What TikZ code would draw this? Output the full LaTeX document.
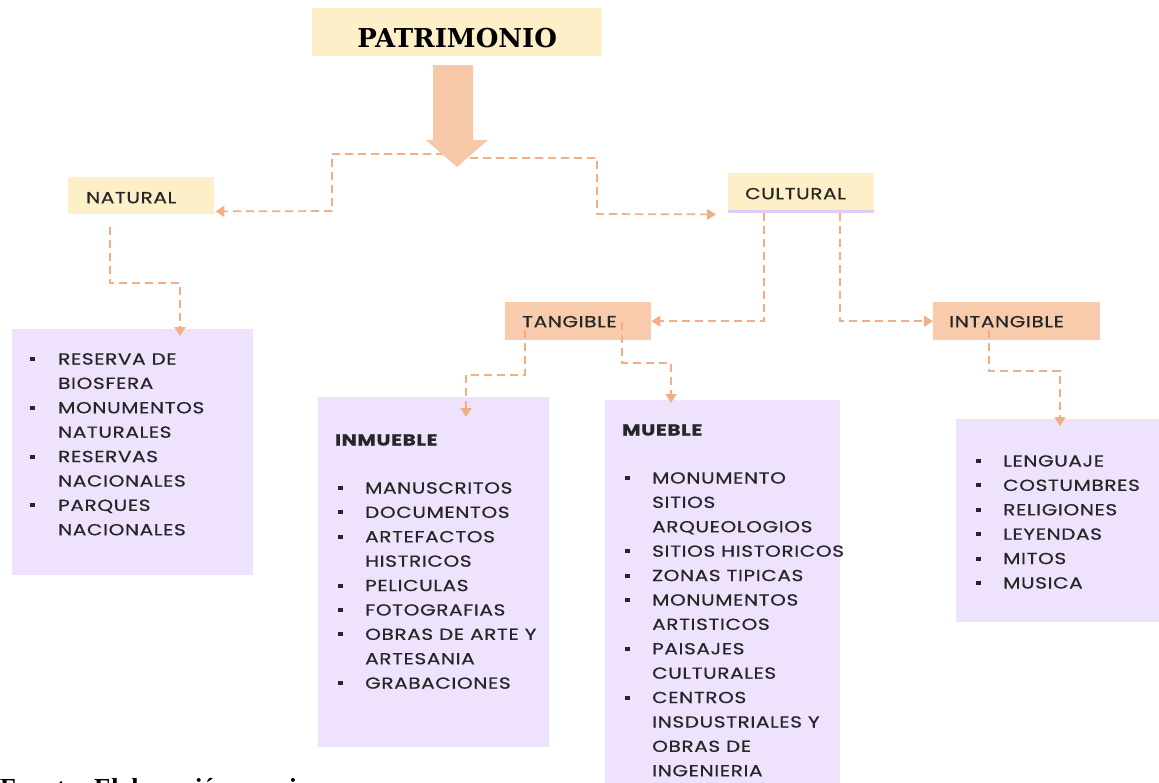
\documentclass[tikz,border=0pt]{standalone}
\usepackage{fontspec}
\setmainfont{Poppins}[FakeStretch=1.25, LetterSpace=4, FakeBold=0.6]
\newfontfamily\titlefont{DejaVu Serif}
\newfontfamily\notefont{Liberation Serif}
\usetikzlibrary{arrows.meta,calc}

\definecolor{cream}{HTML}{FDF0C9}
\definecolor{peach}{HTML}{F8CBAD}
\definecolor{lilac}{HTML}{EEE2FD}
\definecolor{lilacline}{HTML}{DDCBFA}
\definecolor{dashc}{HTML}{F3AE84}
\definecolor{bigarrow}{HTML}{F6C8A8}
\definecolor{ink}{HTML}{262626}

\tikzset{
  tag/.style={inner ysep=0pt, align=left, anchor=north west, text=ink,
    font=\fontsize{16}{19}\selectfont},
  panel/.style={fill=lilac, inner sep=0pt, anchor=north west},
  item/.style={anchor=base west, inner sep=0pt, text=ink,
    font=\fontsize{16}{19}\selectfont},
  head/.style={item, font=\fontsize{16}{19}\selectfont\bfseries},
  link/.style={draw=dashc, line width=1.7pt, dash pattern=on 8pt off 5pt,
    -{Triangle[width=11pt,length=9pt,fill=dashc]}},
}

% one bulleted list: #1 = x of bullets, #2 = x of text, #3 = first line centre,
% #4 = name prefix, #5 = list of flag/text pairs (flag 1 = line with bullet)
\newcommand\bulletlist[5]{%
  \foreach \b/\t [count=\i from 0] in {#5} {
    \node[item] (#4-\i) at (#2, {#3+24.4*\i+5.5}) {\t};
    \ifnum\b=1 \fill[ink] (#1-2.5, {#3+24.4*\i-2}) rectangle ++(5,4); \fi
  }%
}

\begin{document}
\begin{tikzpicture}[x=1pt,y=-1pt]
\useasboundingbox (0,0) rectangle (1159,782);

% ---- title ----
\node[fill=cream, inner sep=0pt, anchor=north west, minimum width=290pt,
      text height=39pt, text depth=9pt, text=black,
      font=\titlefont\bfseries\fontsize{26}{30}\selectfont]
  (patrimonio) at (312,8) {PATRIMONIO};

% ---- first level boxes ----
\node[tag, fill=cream, inner xsep=18pt, text width=110pt,
      text height=26pt, text depth=11pt] (natural) at (68,177) {NATURAL};
\node[tag, fill=cream, inner xsep=17pt, text width=112pt,
      text height=26pt, text depth=14pt] (cultural) at (728,173) {CULTURAL};
\draw[lilacline, line width=3pt] ($(cultural.south west)+(0,-1.5)$) -- ($(cultural.south east)+(0,-1.5)$);

% ---- second level boxes ----
\node[tag, fill=peach, inner xsep=17pt, text width=112pt,
      text height=25pt, text depth=13pt] (tangible) at (505,302) {TANGIBLE};
\node[tag, fill=peach, inner xsep=16pt, text width=135pt,
      text height=25pt, text depth=13pt] (intangible) at (933,302) {INTANGIBLE};

% ---- list panels ----
\node[panel, minimum width=241pt, minimum height=246pt] (natlist) at (12,329) {};
\node[panel, minimum width=231pt, minimum height=350pt] (inmueble) at (318,397) {};
\node[panel, minimum width=235pt, minimum height=400pt] (mueble) at (605,400) {};
\node[panel, minimum width=203pt, minimum height=203pt] (intlist) at (956,419) {};

% ---- connectors ----
\coordinate (forkL) at (457,154);
\coordinate (forkR) at (457,158);
\draw[link] (forkL) -| (332,211) -- ($(natural.south east)+(1,-3)$);
\draw[link] (forkR) -| (597,214) -- ($(cultural.south west)+(-12,1)$);

\draw[link] ($(natural.south west)+(42,13)$) |- (180,283) -- ($(natlist.north west)+(168,7)$);

\draw[link] ($(cultural.south west)+(36,0)$) |- (tangible.east);
\draw[link] ($(cultural.south west)+(112,0)$) |- (intangible.west);

\draw[link] ($(tangible.south west)+(20,-10)$) |- (466,375) -- ($(inmueble.north west)+(148,20)$);
\draw[link] ($(tangible.north west)+(117,20)$) |- (671,363) -- ($(mueble.north west)+(66,3)$);

\draw[link] ($(intangible.south west)+(56,-10)$) |- (1060,371) -- ($(intlist.north west)+(104,7)$);

% ---- big arrow below the title ----
\fill[bigarrow] (433,65) -- (473,65) -- (473,140) -- (488,140) -- (457,167)
  -- (426,140) -- (433,140) -- cycle;

% ---- list contents ----
\bulletlist{32}{58}{359}{nat}{1/RESERVA DE,0/BIOSFERA,1/MONUMENTOS,0/NATURALES,
  1/RESERVAS,0/NACIONALES,1/PARQUES,0/NACIONALES}

\node[head] (inm-h) at (335,445.5) {INMUEBLE};
\bulletlist{340}{365}{488}{inm}{1/MANUSCRITOS,1/DOCUMENTOS,1/ARTEFACTOS,
  0/HISTRICOS,1/PELICULAS,1/FOTOGRAFIAS,1/OBRAS DE ARTE Y,0/ARTESANIA,
  1/GRABACIONES}

\node[head] (mue-h) at (622,435.5) {MUEBLE};
\bulletlist{627}{652}{478}{mue}{1/MONUMENTO,0/SITIOS,0/ARQUEOLOGIOS,
  1/SITIOS HISTORICOS,1/ZONAS TIPICAS,1/MONUMENTOS,0/ARTISTICOS,1/PAISAJES,
  0/CULTURALES,1/CENTROS,0/INSDUSTRIALES Y,0/OBRAS DE,0/INGENIERIA}

\bulletlist{978}{1003}{461}{int}{1/LENGUAJE,1/COSTUMBRES,1/RELIGIONES,
  1/LEYENDAS,1/MITOS,1/MUSICA}

% ---- source note ----
\node[anchor=base west, inner sep=0pt, font=\notefont\bfseries\fontsize{26}{30}\selectfont]
  (fuente) at (0,796) {Fuente: Elaboración propia};
\end{tikzpicture}
\end{document}
